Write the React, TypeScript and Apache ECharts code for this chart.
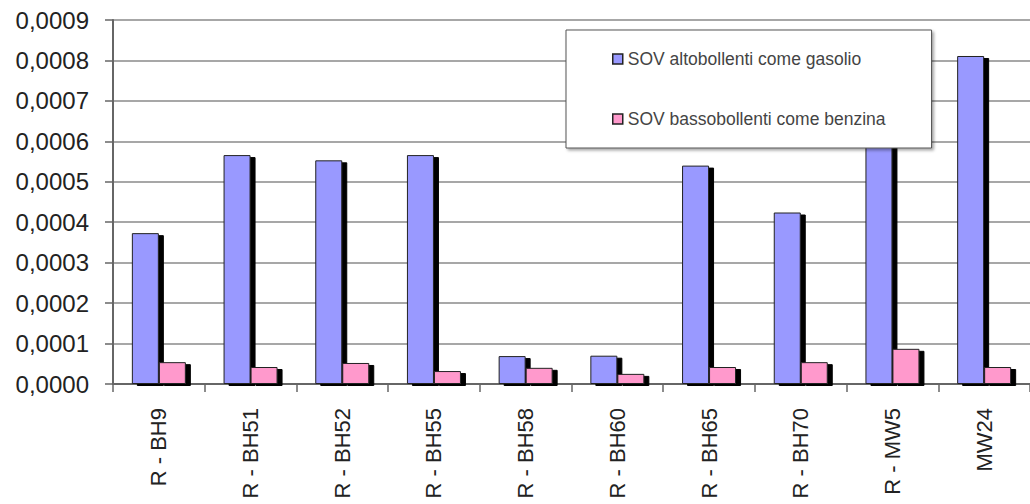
import React, { useEffect, useRef } from "react";
import * as echarts from "echarts";

const categories = ["R - BH9", "R - BH51", "R - BH52", "R - BH55", "R - BH58", "R - BH60", "R - BH65", "R - BH70", "R - MW5", "MW24"];
const seriesNames = ["SOV altobollenti come gasolio", "SOV bassobollenti come benzina"];
const gasolio = [0.000373, 0.000566, 0.000553, 0.000566, 0.000069, 0.00007, 0.00054, 0.000424, 0.00063, 0.000811];
const benzina = [0.000054, 0.000042, 0.000052, 0.000032, 0.00004, 0.000025, 0.000042, 0.000054, 0.000087, 0.000042];

const FONT = "'Liberation Sans', Arial, sans-serif";

export default function App() {
  const ref = useRef<HTMLDivElement>(null);
  useEffect(() => {
    if (!ref.current) return;
    const chart = echarts.init(ref.current, null, { renderer: "svg" });
    const barStyle = (color: string) => ({
      color,
      borderColor: "#222",
      borderWidth: 1,
      shadowColor: "#000",
      shadowBlur: 0,
      shadowOffsetX: 5,
      shadowOffsetY: 2,
    });
    chart.setOption({
      animation: false,
      backgroundColor: "#fff",
      textStyle: { fontFamily: FONT },
      grid: { left: 113, top: 20, width: 923, height: 364, containLabel: false },
      legend: {
        orient: "vertical",
        left: 566,
        top: 30,
        padding: [20, 46, 20, 46],
        itemGap: 42,
        itemWidth: 10,
        itemHeight: 10,
        icon: "rect",
        backgroundColor: "#fff",
        borderColor: "#555",
        borderWidth: 1,
        shadowColor: "rgba(0,0,0,0.35)",
        shadowBlur: 3,
        shadowOffsetX: 2,
        shadowOffsetY: 2,
        textStyle: { fontSize: 17.5, color: "#444", fontFamily: FONT },
        itemStyle: { borderColor: "#222", borderWidth: 1.5, shadowBlur: 0, shadowOffsetX: 0, shadowOffsetY: 0, shadowColor: "transparent" },
        data: seriesNames,
        z: 10,
      },
      xAxis: {
        type: "category",
        data: categories,
        boundaryGap: true,
        axisLine: { lineStyle: { color: "#666", width: 2 } },
        axisTick: { show: true, length: 8, alignWithLabel: false, lineStyle: { color: "#666", width: 1.5 } },
        axisLabel: { rotate: 90, fontSize: 22, color: "#222", margin: 24, fontFamily: FONT },
      },
      yAxis: {
        type: "value",
        min: 0,
        max: 0.0009,
        interval: 0.0001,
        axisLine: { show: true, lineStyle: { color: "#666", width: 2 } },
        axisTick: { show: true, length: 8, lineStyle: { color: "#666", width: 1.5 } },
        splitLine: { show: true, lineStyle: { color: "#8a8a8a", width: 1.5 } },
        axisLabel: {
          fontSize: 24,
          color: "#222",
          margin: 24,
          fontFamily: FONT,
          formatter: (v: number) => v.toFixed(4).replace(".", ","),
        },
      },
      series: [
        {
          name: seriesNames[0],
          type: "bar",
          data: gasolio,
          barWidth: 27,
          barGap: "0%",
          itemStyle: barStyle("#9999ff"),
        },
        {
          name: seriesNames[1],
          type: "bar",
          data: benzina,
          barWidth: 27,
          barGap: "0%",
          itemStyle: barStyle("#ff99cc"),
        },
      ],
    });
    return () => chart.dispose();
  }, []);
  return (
    <div
      ref={ref}
      style={{ position: "fixed", left: 0, top: 0, width: 1030, height: 504, background: "#fff" }}
    />
  );
}
